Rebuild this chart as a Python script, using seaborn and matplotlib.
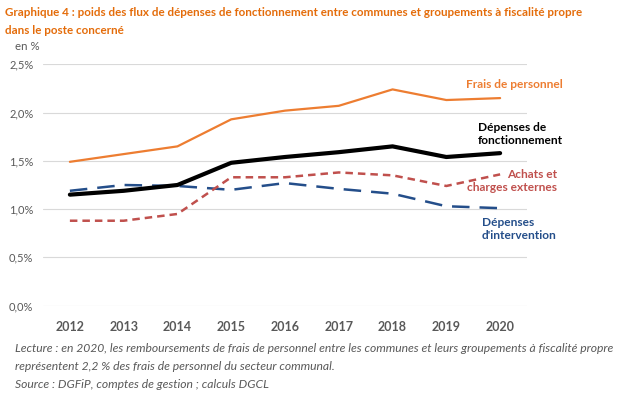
import matplotlib
matplotlib.use("Agg")
import matplotlib.pyplot as plt
import seaborn as sns
import pandas as pd

years = [2012, 2013, 2014, 2015, 2016, 2017, 2018, 2019, 2020]
frais_personnel = [1.49, 1.57, 1.65, 1.93, 2.02, 2.07, 2.24, 2.13, 2.15]
depenses_fonct = [1.15, 1.19, 1.25, 1.48, 1.54, 1.59, 1.65, 1.54, 1.58]
achats = [0.88, 0.88, 0.95, 1.33, 1.33, 1.38, 1.35, 1.24, 1.36]
intervention = [1.19, 1.25, 1.24, 1.20, 1.27, 1.21, 1.16, 1.03, 1.01]
y_ticks = [0.0, 0.5, 1.0, 1.5, 2.0, 2.5]
y_tick_labels = ["0,0%", "0,5%", "1,0%", "1,5%", "2,0%", "2,5%"]

sns.set_theme(style="white")
plt.rcParams['font.family'] = ['Lato', 'DejaVu Sans']

fig = plt.figure(figsize=(6.36, 3.99), dpi=100)
ax = fig.add_axes([43/636, 1-305.7/399, (527-43)/636, (305.7-64.3)/399])

df = pd.DataFrame({"year": years, "fp": frais_personnel, "df": depenses_fonct,
                   "ach": achats, "int": intervention})

sns.lineplot(data=df, x="year", y="fp", ax=ax, color="#ED7D31", linewidth=1.6)
sns.lineplot(data=df, x="year", y="int", ax=ax, color="#244E8A", linewidth=1.8)
ax.lines[-1].set_dashes([7, 4])
sns.lineplot(data=df, x="year", y="ach", ax=ax, color="#C0504D", linewidth=1.8)
ax.lines[-1].set_dashes([3, 2])
sns.lineplot(data=df, x="year", y="df", ax=ax, color="black", linewidth=3)

ax.set_xlim(2011.5, 2020.5)
ax.set_ylim(0, 2.5)
ax.set_yticks(y_ticks)
ax.set_yticklabels(y_tick_labels, color="#595959", fontsize=8)
ax.set_xticks(years)
ax.set_xticklabels([str(y) for y in years], color="#595959", fontsize=9, fontweight="bold")
ax.tick_params(axis="y", length=0, pad=7)
ax.tick_params(axis="x", length=0, pad=11)
ax.grid(axis="y", color="#D9D9D9", linewidth=0.8)
for s in ax.spines.values():
    s.set_visible(False)
ax.set_xlabel("")
ax.set_ylabel("")

lab = dict(fontsize=8.6, fontweight="bold", va="center", linespacing=1.3)
fig.text(466/636, 1-85/399, "Frais de personnel", color="#ED7D31", ha="left", **lab)
fig.text(478/636, 1-134/399, "Dépenses de\nfonctionnement", color="black", ha="left", **lab)
fig.text(557/636, 1-181/399, "Achats et\ncharges externes", color="#C0504D", ha="right",
         multialignment="right", **lab)
fig.text(482/636, 1-229/399, "Dépenses\nd'intervention", color="#244E8A", ha="left", **lab)

tit = dict(color="#E46C0A", fontsize=8.4, fontweight="bold", va="center", ha="left")
fig.text(5/636, 1-13/399, "Graphique 4 : poids des flux de dépenses de fonctionnement entre communes et groupements à fiscalité propre", **tit)
fig.text(5/636, 1-30/399, "dans le poste concerné", **tit)
fig.text(15/636, 1-47/399, "en %", color="#595959", fontsize=8.3, va="center", ha="left")

note = dict(color="#595959", fontsize=8.75, style="italic", va="center", ha="left")
fig.text(15/636, 1-349/399, "Lecture : en 2020, les remboursements de frais de personnel entre les communes et leurs groupements à fiscalité propre", **note)
fig.text(15/636, 1-366/399, "représentent 2,2 % des frais de personnel du secteur communal.", **note)
fig.text(15/636, 1-385/399, "Source : DGFiP, comptes de gestion ; calculs DGCL", **note)

fig.savefig("out.png", dpi=100)
